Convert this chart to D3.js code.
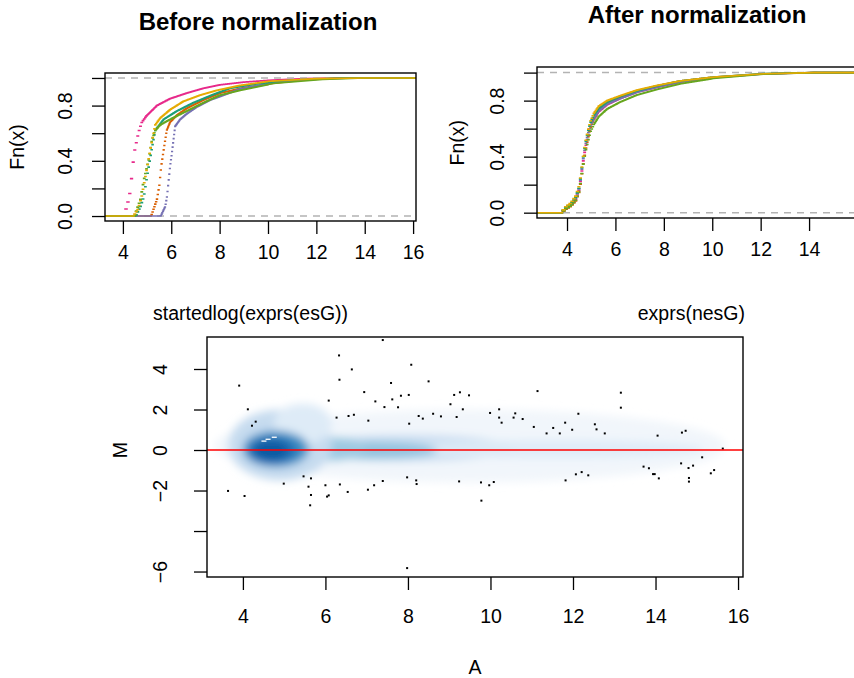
<!DOCTYPE html>
<html>
<head>
<meta charset="utf-8">
<script src="https://cdn.jsdelivr.net/npm/d3@7"></script>
<style>
  body { margin: 0; background: #fff; }
  text { font-family: "Liberation Sans", Arial, Helvetica, sans-serif; fill: #000; }
</style>
</head>
<body>
<div id="chart"></div>
<script>
const width = 854, height = 678;

// ---- data: ECDF of log intensities, before normalization (x, Fn(x) per array)
const sampleColors = ["#E7298A", "#D95F02", "#7570B3", "#1B9E77", "#66A61E", "#E6AB02"];

const beforeX = [
  [4.0, 4.12, 4.23, 4.30, 4.37, 4.45, 4.57, 4.66, 4.76, 4.95, 5.39, 5.94, 6.63, 7.32, 8.0, 9.0, 10.2, 11.5, 12.6],
  [5.15, 5.39, 5.49, 5.57, 5.69, 5.80, 5.94, 6.22, 6.63, 7.32, 8.0, 9.0, 10.2, 11.5, 13.0],
  [5.55, 5.74, 5.81, 5.87, 5.94, 6.01, 6.08, 6.15, 6.36, 6.63, 7.05, 7.6, 8.0, 8.83, 10.2, 11.8, 13.5],
  [4.5, 4.70, 4.84, 4.98, 5.05, 5.18, 5.32, 5.67, 6.22, 6.9, 7.73, 8.42, 9.52, 11.0, 13.0],
  [4.45, 4.70, 4.84, 5.05, 5.18, 5.32, 5.53, 5.94, 6.63, 7.32, 8.0, 8.83, 10.21, 12.26, 14.0],
  [4.4, 4.6, 4.75, 4.9, 5.05, 5.2, 5.32, 5.53, 5.94, 6.49, 7.18, 7.87, 8.8, 10.0, 12.0, 14.0]
];
const beforeY = [
  [0, 0.07, 0.14, 0.23, 0.36, 0.47, 0.57, 0.63, 0.68, 0.725, 0.80, 0.85, 0.89, 0.925, 0.95, 0.97, 0.985, 0.995, 1],
  [0, 0.12, 0.22, 0.36, 0.50, 0.62, 0.68, 0.73, 0.78, 0.84, 0.89, 0.93, 0.96, 0.985, 1],
  [0, 0.07, 0.14, 0.24, 0.36, 0.45, 0.55, 0.65, 0.70, 0.74, 0.79, 0.84, 0.865, 0.92, 0.965, 0.99, 1],
  [0, 0.07, 0.14, 0.29, 0.36, 0.49, 0.62, 0.70, 0.76, 0.82, 0.88, 0.925, 0.957, 0.985, 1],
  [0, 0.12, 0.26, 0.41, 0.55, 0.62, 0.66, 0.70, 0.76, 0.82, 0.875, 0.91, 0.96, 0.99, 1],
  [0, 0.05, 0.14, 0.28, 0.42, 0.56, 0.66, 0.71, 0.77, 0.83, 0.875, 0.91, 0.945, 0.975, 0.995, 1]
];

// ---- after normalization: shared x grid, one Fn(x) array per sample
const afterX = [3.75, 3.85, 4.12, 4.33, 4.47, 4.54, 4.61, 4.67, 4.74, 4.84, 4.95, 5.09, 5.29, 5.64, 6.19, 6.88, 7.71, 8.67, 10.05, 12.11, 14.2];
const afterY = [
  [0, 0.02, 0.05, 0.095, 0.165, 0.24, 0.33, 0.40, 0.47, 0.545, 0.61, 0.665, 0.72, 0.77, 0.815, 0.86, 0.895, 0.932, 0.963, 0.99, 1],
  [0, 0.02, 0.045, 0.085, 0.15, 0.22, 0.31, 0.38, 0.45, 0.53, 0.61, 0.67, 0.73, 0.78, 0.825, 0.87, 0.905, 0.94, 0.968, 0.992, 1],
  [0, 0.03, 0.06, 0.105, 0.175, 0.25, 0.345, 0.415, 0.485, 0.56, 0.625, 0.67, 0.725, 0.775, 0.815, 0.86, 0.897, 0.933, 0.964, 0.99, 1],
  [0, 0.03, 0.06, 0.11, 0.18, 0.26, 0.355, 0.43, 0.50, 0.575, 0.645, 0.695, 0.745, 0.79, 0.83, 0.87, 0.905, 0.94, 0.968, 0.993, 1],
  [0, 0.022, 0.05, 0.09, 0.155, 0.225, 0.31, 0.375, 0.44, 0.51, 0.58, 0.63, 0.685, 0.74, 0.79, 0.84, 0.88, 0.92, 0.958, 0.988, 1],
  [0, 0.035, 0.07, 0.12, 0.19, 0.265, 0.36, 0.435, 0.505, 0.585, 0.655, 0.71, 0.76, 0.80, 0.835, 0.875, 0.908, 0.94, 0.968, 0.992, 1]
];

// ---- MA plot: density areas (centre A, centre M, half-width A, half-height M, colour, opacity)
const densA  = [9.5, 8.0, 11.6, 7.0, 6.1, 4.9, 5.45, 4.8, 4.72, 4.68];
const densM  = [0.2, 0.1, 0.05, -0.02, 0.05, 0.25, 1.3, 0.05, -0.02, -0.02];
const densRA = [6.2, 2.6, 3.6, 1.7, 0.9, 1.25, 0.7, 0.8, 0.6, 0.42];
const densRM = [1.8, 0.65, 0.45, 0.45, 0.6, 1.75, 1.0, 0.9, 0.66, 0.5];
const densCol = ["#eef4fa", "#c6dbef", "#deebf7", "#8fc1de", "#9ecae1", "#c6dbef", "#deebf7", "#4292c6", "#2171b5", "#0b5aa3"];
const densOp  = [0.8, 0.9, 0.9, 0.9, 0.95, 1, 1, 1, 1, 1];

// ---- MA plot: outlying points
const outA = [6.33,6.64,6.34,3.91,8.08,8.50,7.59,6.94,7.21,7.62,7.83,8.02,7.43,7.76,6.08,4.12,4.31,4.22,6.27,6.56,
  6.69,7.04,8.03,8.26,8.36,8.61,8.80,9.03,9.12,9.26,9.48,9.33,9.18,9.99,10.21,10.21,10.27,10.56,10.60,10.78,
  11.14,11.05,11.36,11.52,11.68,11.81,11.98,12.13,
  3.64,4.04,4.99,5.47,5.65,5.59,5.65,5.63,6.00,6.04,6.08,6.35,6.54,7.03,7.18,7.39,7.98,8.20,8.21,9.24,
  9.77,9.78,9.97,10.08,11.82,12.07,7.98,7.39,
  13.16,13.16,12.53,12.57,12.77,14.05,14.64,14.73,15.63,15.13,14.91,14.62,14.80,15.42,15.34,14.81,14.81,13.71,13.84,13.94,
  13.98,14.08,12.21,12.37];
const outM = [4.67,3.98,3.47,3.18,4.21,3.39,3.31,2.86,2.40,2.50,2.68,2.72,2.12,2.11,2.44,2.01,1.40,1.20,1.60,1.68,
  1.74,1.45,1.30,1.68,1.55,1.79,1.66,2.26,2.72,2.85,2.70,2.01,1.63,1.83,2.01,1.60,1.35,1.60,1.81,1.53,
  2.91,1.14,0.82,1.09,0.82,1.35,1.00,1.79,
  -2.02,-2.27,-1.66,-1.30,-1.40,-1.81,-2.22,-2.73,-1.74,-2.30,-2.24,-1.70,-2.07,-1.96,-1.74,-1.53,-1.35,-1.50,-1.68,-1.55,
  -1.60,-2.50,-1.74,-1.58,-1.50,-1.20,-5.83,5.43,
  2.83,2.09,1.27,1.02,0.82,0.71,0.86,0.95,0.07,-0.36,-0.77,-0.66,-0.89,-0.99,-1.15,-1.38,-1.56,-0.82,-0.90,-1.19,
  -1.19,-1.40,-1.09,-1.25];
// white marks inside the dense core
const coreA = [4.51, 4.61, 4.76];
const coreM = [0.44, 0.53, 0.63];

// ---- tick values
const ecdfXTicks = [4, 6, 8, 10, 12, 14, 16];
const ecdfYTicks = [0, 0.2, 0.4, 0.6, 0.8, 1];
const ecdfYLabels = ["0.0", "", "0.4", "", "0.8", ""];
const maXTicks = [4, 6, 8, 10, 12, 14, 16];
const maYTicks = [-6, -4, -2, 0, 2, 4];
const maYLabels = ["\u22126", "", "\u22122", "0", "2", "4"];

const svg = d3.select("#chart").append("svg").attr("width", width).attr("height", height);
const FS = 19.5, TICK = 13;

// scales
const xL = d3.scaleLinear().domain([3.26, 16.12]).range([105, 416]);
const yL = d3.scaleLinear().domain([-0.036, 1.036]).range([221, 73]);
const xR = d3.scaleLinear().domain([2.76, 15.98]).range([537, 857]);
const yR = d3.scaleLinear().domain([-0.038, 1.04]).range([218, 67]);
const xB = d3.scaleLinear().domain([3.13, 16.12]).range([207, 743]);
const yB = d3.scaleLinear().domain([-6.27, 5.58]).range([577, 337]);

function clip(id, x, y) {
  svg.append("clipPath").attr("id", id).append("rect")
    .attr("x", x.range()[0]).attr("y", y.range()[1])
    .attr("width", x.range()[1] - x.range()[0]).attr("height", y.range()[0] - y.range()[1]);
}

function box(x, y) {
  svg.append("rect").attr("x", x.range()[0]).attr("y", y.range()[1])
    .attr("width", x.range()[1] - x.range()[0]).attr("height", y.range()[0] - y.range()[1])
    .attr("fill", "none").attr("stroke", "#000").attr("stroke-width", 1.4);
}

function bottomAxis(x, y, vals, labelY) {
  const g = svg.append("g").attr("transform", `translate(0,${y.range()[0]})`)
    .call(d3.axisBottom(x).tickValues(vals).tickSize(TICK).tickFormat(d3.format("d")));
  g.select(".domain").remove();
  g.attr("font-size", null).attr("font-family", null);
  g.selectAll(".tick line").attr("stroke", "#000").attr("stroke-width", 1.3);
  g.selectAll(".tick text").attr("y", labelY).attr("dy", null).attr("font-size", FS);
}

function leftAxis(x, y, vals, labels, labelDx) {
  const g = svg.append("g").attr("transform", `translate(${x.range()[0]},0)`)
    .call(d3.axisLeft(y).tickValues(vals).tickSize(TICK).tickFormat((d, i) => labels[i]));
  g.select(".domain").remove();
  g.attr("font-size", null).attr("font-family", null);
  g.selectAll(".tick line").attr("stroke", "#000").attr("stroke-width", 1.3);
  g.selectAll(".tick text").attr("x", null).attr("dy", null)
    .attr("transform", `translate(${-labelDx},0) rotate(-90)`)
    .attr("text-anchor", "middle").attr("dominant-baseline", "central")
    .attr("font-size", FS);
}

// ECDF drawn as horizontal steps on the log2 integer grid, then a line for the smooth tail
function ecdfPath(xs, ys, x, y) {
  const F = d3.scaleLinear().domain(xs).range(ys).clamp(true);
  const [xmin, xmax] = x.domain();
  const p = d3.path();
  p.moveTo(x(xmin), y(0));
  p.lineTo(x(xs[0]), y(0));
  const n0 = Math.floor(Math.pow(2, xs[0]));
  for (let n = n0; n < 1024; n++) {
    const a = Math.log2(n), b = Math.log2(n + 1);
    if (b <= xs[0]) continue;
    const v = F(a);
    p.moveTo(x(a), y(v));
    p.lineTo(Math.max(x(b), x(a) + 0.3), y(v));
  }
  p.moveTo(x(10), y(F(10)));
  xs.forEach((d, i) => { if (d > 10) p.lineTo(x(d), y(ys[i])); });
  p.lineTo(x(xmax), y(1));
  return p.toString();
}

function ecdfPanel(id, x, y, xsList, ysList, xTicks, labelY) {
  clip(id, x, y);
  const g = svg.append("g").attr("clip-path", `url(#${id})`);
  xsList.forEach((xs, i) => {
    g.append("path").attr("d", ecdfPath(xs, ysList[i], x, y))
      .attr("fill", "none").attr("stroke", sampleColors[i])
      .attr("stroke-width", 1.6).attr("stroke-linecap", "square");
    if (i === 0) {
      g.selectAll(null).data([0, 1]).enter().append("line")
        .attr("x1", x.range()[0]).attr("x2", x.range()[1])
        .attr("y1", d => y(d)).attr("y2", d => y(d))
        .attr("stroke", "#b3b3b3").attr("stroke-width", 1.5).attr("stroke-dasharray", "7,6");
    }
  });
  box(x, y);
  bottomAxis(x, y, xTicks, labelY);
  leftAxis(x, y, ecdfYTicks, ecdfYLabels, 40);
}

// ---- top-left panel
ecdfPanel("clipL", xL, yL, beforeX, beforeY, ecdfXTicks, 38);
svg.append("text").attr("x", 258).attr("y", 30).attr("text-anchor", "middle")
  .attr("font-size", 24).attr("font-weight", "bold").text("Before normalization");
svg.append("text").attr("transform", `translate(17,${yL(0.5)}) rotate(-90)`)
  .attr("text-anchor", "middle").attr("dominant-baseline", "central")
  .attr("font-size", FS).text("Fn(x)");

// ---- top-right panel
ecdfPanel("clipR", xR, yR, beforeX.map(() => afterX), afterY, ecdfXTicks.filter(d => d < 16), 38);
svg.append("text").attr("x", 697).attr("y", 23).attr("text-anchor", "middle")
  .attr("font-size", 24).attr("font-weight", "bold").text("After normalization");
svg.append("text").attr("transform", `translate(457,${yR(0.5)}) rotate(-90)`)
  .attr("text-anchor", "middle").attr("dominant-baseline", "central")
  .attr("font-size", FS).text("Fn(x)");

// ---- bottom MA panel
clip("clipB", xB, yB);
const defs = svg.append("defs");
defs.append("filter").attr("id", "blur").attr("x", "-50%").attr("y", "-50%")
  .attr("width", "200%").attr("height", "200%")
  .append("feGaussianBlur").attr("stdDeviation", 4);

const gB = svg.append("g").attr("clip-path", "url(#clipB)");
const dens = densA.map((a, i) => ({a, m: densM[i], ra: densRA[i], rm: densRM[i], c: densCol[i], o: densOp[i]}));
gB.append("g").attr("filter", "url(#blur)")
  .selectAll("ellipse").data(dens).enter().append("ellipse")
  .attr("cx", d => xB(d.a)).attr("cy", d => yB(d.m))
  .attr("rx", d => xB(d.a + d.ra) - xB(d.a)).attr("ry", d => yB(d.m - d.rm) - yB(d.m))
  .attr("fill", d => d.c).attr("fill-opacity", d => d.o);

gB.selectAll("line.core").data(coreA).enter().append("line").attr("class", "core")
  .attr("x1", d => xB(d) - 2.5).attr("x2", d => xB(d) + 2.5)
  .attr("y1", (d, i) => yB(coreM[i])).attr("y2", (d, i) => yB(coreM[i]))
  .attr("stroke", "#fff").attr("stroke-width", 1.3);

gB.selectAll("rect.pt").data(outA).enter().append("rect").attr("class", "pt")
  .attr("x", d => xB(d) - 1).attr("y", (d, i) => yB(outM[i]) - 1)
  .attr("width", 2).attr("height", 2).attr("fill", "#000");

gB.append("line").attr("x1", xB.range()[0]).attr("x2", xB.range()[1])
  .attr("y1", yB(0)).attr("y2", yB(0)).attr("stroke", "#ff0000").attr("stroke-width", 1.3);

box(xB, yB);
bottomAxis(xB, yB, maXTicks, 46);
leftAxis(xB, yB, maYTicks, maYLabels, 47);

svg.append("text").attr("x", 153).attr("y", 320).attr("font-size", FS).text("startedlog(exprs(esG))");
svg.append("text").attr("x", 745).attr("y", 320).attr("text-anchor", "end").attr("font-size", FS).text("exprs(nesG)");
svg.append("text").attr("transform", `translate(120,${yB(0)}) rotate(-90)`)
  .attr("text-anchor", "middle").attr("dominant-baseline", "central")
  .attr("font-size", FS).text("M");
svg.append("text").attr("x", (xB.range()[0] + xB.range()[1]) / 2).attr("y", 674)
  .attr("text-anchor", "middle").attr("font-size", FS).text("A");
</script>
</body>
</html>
